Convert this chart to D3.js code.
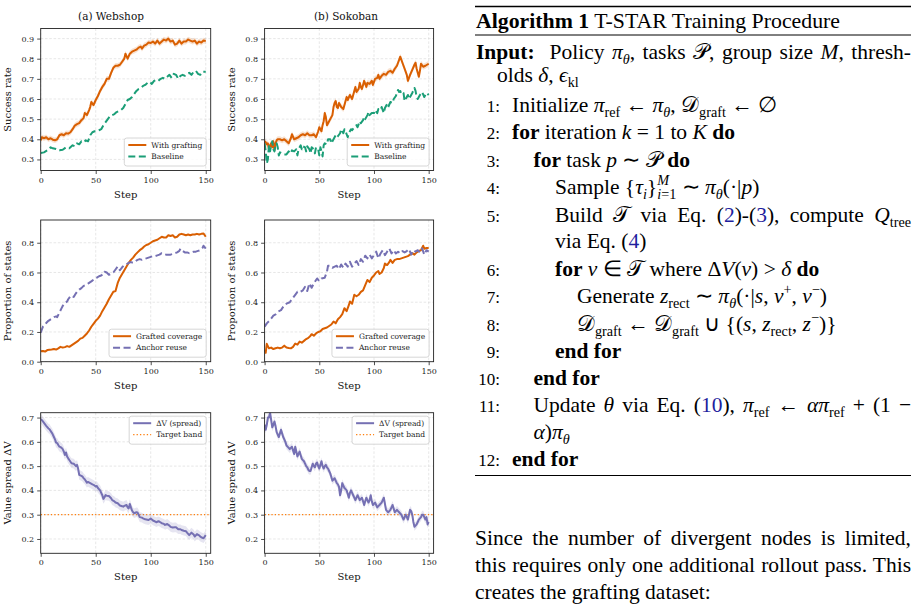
<!DOCTYPE html>
<html>
<head>
<meta charset="utf-8">
<script src="https://cdn.jsdelivr.net/npm/d3@7"></script>
<style>
  body { margin: 0; background: #fff; }
  svg { display: block; }
  text { white-space: pre; }
</style>
</head>
<body>
<svg width="920" height="607"></svg>
<script>
// ---- data: [step, value] ----
const webshopGrafting = [[0,0.395],[1,0.41],[3,0.405],[5,0.41],[7,0.40],[9,0.405],[11,0.398],[13,0.395],[15,0.40],[17,0.42],[19,0.425],[21,0.42],[23,0.43],[25,0.428],[27,0.435],[29,0.45],[31,0.468],[33,0.475],[35,0.48],[37,0.495],[39,0.505],[40,0.53],[42,0.52],[44,0.545],[45,0.56],[46,0.585],[48,0.57],[50,0.595],[52,0.615],[54,0.64],[56,0.66],[58,0.675],[60,0.70],[62,0.70],[64,0.73],[66,0.755],[68,0.765],[70,0.765],[72,0.77],[74,0.785],[76,0.80],[77,0.825],[79,0.80],[81,0.825],[83,0.835],[85,0.84],[87,0.845],[89,0.855],[91,0.86],[92,0.85],[94,0.865],[96,0.87],[98,0.88],[100,0.878],[102,0.885],[104,0.875],[106,0.89],[108,0.875],[110,0.885],[112,0.895],[114,0.89],[116,0.90],[118,0.885],[120,0.89],[122,0.87],[124,0.875],[126,0.89],[128,0.875],[130,0.885],[132,0.885],[134,0.895],[136,0.89],[138,0.885],[140,0.89],[142,0.875],[144,0.885],[146,0.88],[148,0.89],[150,0.888]];
const webshopBaseline = [[0,0.332],[3,0.335],[6,0.345],[9,0.36],[11,0.355],[14,0.352],[17,0.345],[20,0.348],[23,0.36],[26,0.355],[29,0.37],[31,0.365],[33,0.38],[35,0.375],[37,0.39],[39,0.385],[41,0.395],[43,0.39],[45,0.42],[47,0.435],[49,0.44],[51,0.44],[53,0.445],[55,0.45],[57,0.47],[59,0.485],[61,0.50],[63,0.515],[65,0.52],[67,0.525],[69,0.535],[71,0.54],[73,0.545],[75,0.555],[77,0.575],[79,0.595],[81,0.60],[83,0.61],[85,0.625],[87,0.64],[89,0.65],[91,0.655],[93,0.665],[95,0.67],[97,0.68],[99,0.685],[101,0.675],[103,0.69],[105,0.695],[107,0.69],[109,0.70],[111,0.705],[113,0.70],[115,0.71],[117,0.72],[119,0.705],[121,0.725],[123,0.72],[125,0.70],[127,0.715],[129,0.72],[131,0.715],[133,0.725],[135,0.73],[137,0.72],[139,0.735],[141,0.74],[143,0.725],[145,0.72],[147,0.735],[150,0.735]];
const sokobanGrafting = [[0,0.39],[1,0.385],[2,0.375],[3,0.38],[4,0.35],[5,0.37],[6,0.38],[7,0.36],[8,0.39],[9,0.345],[10,0.38],[11,0.395],[12,0.40],[14,0.40],[16,0.395],[18,0.40],[20,0.39],[22,0.38],[24,0.405],[25,0.425],[27,0.40],[29,0.405],[31,0.41],[33,0.42],[35,0.425],[37,0.42],[39,0.43],[41,0.42],[43,0.42],[45,0.425],[47,0.41],[49,0.44],[50,0.46],[52,0.44],[53,0.47],[54,0.49],[55,0.53],[56,0.51],[57,0.47],[58,0.48],[60,0.50],[62,0.52],[63,0.56],[64,0.58],[65,0.59],[66,0.56],[67,0.555],[68,0.58],[69,0.57],[70,0.56],[72,0.55],[73,0.57],[74,0.59],[75,0.61],[76,0.595],[78,0.62],[80,0.60],[82,0.64],[83,0.66],[84,0.635],[86,0.65],[87,0.68],[88,0.66],[89,0.65],[90,0.67],[91,0.69],[93,0.66],[94,0.68],[96,0.675],[98,0.69],[99,0.67],[101,0.70],[103,0.705],[104,0.72],[105,0.70],[107,0.715],[109,0.725],[111,0.72],[113,0.735],[115,0.74],[117,0.73],[119,0.75],[121,0.765],[122,0.78],[123,0.795],[124,0.81],[126,0.78],[128,0.75],[130,0.72],[131,0.69],[133,0.72],[135,0.745],[137,0.77],[138,0.78],[139,0.75],[140,0.73],[141,0.71],[142,0.74],[143,0.775],[145,0.76],[147,0.765],[150,0.775]];
const sokobanBaseline = [[0,0.38],[1,0.34],[2,0.28],[3,0.30],[4,0.37],[5,0.34],[6,0.37],[7,0.39],[8,0.35],[9,0.34],[10,0.375],[11,0.38],[12,0.36],[13,0.32],[14,0.335],[16,0.33],[18,0.325],[20,0.325],[22,0.34],[24,0.33],[25,0.345],[27,0.34],[29,0.35],[30,0.32],[31,0.35],[33,0.37],[34,0.35],[35,0.365],[37,0.36],[38,0.34],[39,0.365],[41,0.35],[42,0.33],[43,0.36],[45,0.35],[46,0.33],[47,0.36],[49,0.35],[50,0.32],[51,0.36],[52,0.34],[53,0.315],[54,0.37],[55,0.38],[57,0.375],[58,0.40],[60,0.40],[61,0.38],[63,0.40],[65,0.42],[66,0.41],[67,0.415],[69,0.43],[70,0.45],[71,0.44],[72,0.43],[73,0.45],[74,0.44],[76,0.41],[77,0.43],[79,0.45],[80,0.445],[82,0.46],[84,0.47],[85,0.46],[87,0.49],[88,0.48],[90,0.495],[91,0.51],[92,0.50],[94,0.52],[95,0.535],[96,0.52],[98,0.53],[100,0.53],[101,0.545],[103,0.53],[104,0.55],[106,0.545],[107,0.56],[109,0.53],[110,0.555],[112,0.575],[113,0.56],[115,0.585],[117,0.58],[118,0.60],[120,0.615],[122,0.645],[123,0.635],[124,0.64],[125,0.625],[127,0.63],[128,0.59],[129,0.60],[131,0.62],[132,0.60],[134,0.62],[135,0.63],[137,0.655],[138,0.64],[139,0.61],[140,0.60],[142,0.62],[144,0.635],[146,0.61],[148,0.63],[150,0.62]];

const webshopCoverage = [[0,0.07],[2,0.072],[4,0.068],[6,0.078],[8,0.08],[10,0.082],[12,0.085],[14,0.082],[16,0.09],[18,0.1],[20,0.095],[22,0.098],[24,0.105],[26,0.10],[28,0.11],[30,0.12],[32,0.13],[34,0.14],[36,0.155],[38,0.16],[40,0.175],[42,0.19],[44,0.21],[46,0.235],[48,0.255],[50,0.275],[52,0.29],[54,0.31],[56,0.34],[58,0.365],[60,0.39],[62,0.42],[64,0.445],[66,0.47],[68,0.475],[70,0.53],[72,0.565],[74,0.59],[76,0.615],[78,0.64],[80,0.665],[82,0.685],[84,0.70],[86,0.72],[88,0.735],[90,0.75],[92,0.76],[94,0.775],[96,0.785],[98,0.79],[100,0.80],[102,0.81],[104,0.815],[106,0.82],[108,0.83],[110,0.84],[112,0.835],[114,0.835],[116,0.85],[118,0.845],[120,0.85],[122,0.835],[124,0.84],[126,0.855],[128,0.86],[130,0.855],[132,0.85],[134,0.855],[136,0.85],[138,0.855],[140,0.855],[142,0.86],[144,0.855],[146,0.86],[148,0.862],[150,0.84]];
const webshopAnchor = [[0,0.195],[1,0.215],[2,0.235],[4,0.25],[5,0.26],[7,0.275],[9,0.285],[10,0.29],[12,0.30],[14,0.305],[15,0.30],[17,0.33],[19,0.36],[20,0.375],[22,0.395],[24,0.405],[25,0.42],[27,0.44],[28,0.445],[30,0.435],[32,0.46],[33,0.47],[35,0.485],[37,0.495],[39,0.51],[41,0.515],[43,0.525],[45,0.535],[47,0.545],[49,0.56],[51,0.565],[53,0.575],[55,0.58],[57,0.59],[58,0.605],[60,0.60],[62,0.585],[64,0.59],[66,0.60],[68,0.62],[70,0.64],[72,0.615],[74,0.635],[76,0.65],[78,0.655],[80,0.665],[82,0.67],[84,0.665],[86,0.675],[88,0.685],[90,0.69],[92,0.685],[94,0.69],[96,0.695],[98,0.70],[100,0.705],[102,0.71],[104,0.71],[106,0.715],[108,0.72],[110,0.73],[112,0.725],[114,0.72],[116,0.72],[118,0.72],[120,0.725],[122,0.73],[124,0.735],[126,0.745],[127,0.76],[129,0.745],[131,0.735],[133,0.735],[135,0.73],[137,0.735],[139,0.74],[141,0.74],[143,0.745],[145,0.75],[147,0.765],[148,0.78],[150,0.76]];
const sokobanCoverage = [[0,0.078],[1,0.06],[2,0.12],[3,0.105],[4,0.09],[6,0.095],[8,0.085],[10,0.09],[12,0.095],[14,0.09],[16,0.095],[18,0.108],[20,0.095],[22,0.092],[24,0.09],[26,0.10],[28,0.122],[30,0.115],[32,0.135],[34,0.128],[36,0.14],[38,0.152],[40,0.16],[42,0.175],[43,0.185],[45,0.175],[47,0.19],[49,0.20],[51,0.205],[53,0.22],[55,0.225],[57,0.23],[59,0.24],[61,0.25],[63,0.27],[65,0.258],[67,0.285],[69,0.30],[71,0.32],[73,0.36],[75,0.34],[77,0.38],[78,0.405],[80,0.39],[82,0.45],[84,0.44],[86,0.45],[88,0.47],[90,0.48],[92,0.515],[94,0.55],[96,0.535],[98,0.565],[100,0.58],[102,0.60],[104,0.61],[105,0.59],[107,0.60],[109,0.63],[110,0.66],[112,0.65],[114,0.67],[115,0.685],[117,0.665],[119,0.685],[121,0.69],[123,0.69],[125,0.695],[127,0.70],[129,0.705],[131,0.71],[133,0.72],[135,0.73],[137,0.72],[139,0.735],[141,0.745],[143,0.75],[145,0.78],[146,0.76],[148,0.765],[150,0.765]];
const sokobanAnchor = [[0,0.235],[2,0.258],[5,0.28],[8,0.31],[10,0.318],[12,0.336],[15,0.347],[18,0.38],[20,0.39],[23,0.40],[25,0.42],[28,0.45],[30,0.47],[32,0.466],[35,0.48],[37,0.504],[39,0.475],[41,0.527],[43,0.497],[45,0.527],[48,0.56],[50,0.542],[52,0.56],[55,0.565],[57,0.605],[58,0.645],[60,0.645],[62,0.632],[64,0.639],[66,0.645],[68,0.623],[70,0.654],[72,0.632],[74,0.66],[76,0.639],[78,0.672],[80,0.639],[82,0.66],[84,0.677],[86,0.65],[88,0.69],[90,0.672],[92,0.713],[94,0.695],[96,0.72],[98,0.695],[100,0.717],[102,0.74],[104,0.695],[106,0.728],[108,0.75],[110,0.717],[112,0.74],[114,0.762],[116,0.728],[118,0.75],[120,0.728],[122,0.74],[124,0.728],[126,0.744],[128,0.735],[130,0.744],[132,0.757],[134,0.72],[136,0.75],[138,0.74],[140,0.75],[142,0.735],[144,0.762],[146,0.72],[148,0.75],[150,0.74]];

const webshopSpread = [[0,0.693],[1,0.69],[2,0.684],[4,0.672],[5,0.666],[7,0.655],[8,0.652],[10,0.638],[11,0.63],[12,0.62],[13,0.61],[14,0.597],[15,0.595],[16,0.587],[17,0.58],[18,0.578],[19,0.575],[20,0.57],[21,0.56],[22,0.546],[23,0.556],[24,0.54],[25,0.532],[26,0.525],[28,0.512],[30,0.51],[31,0.505],[32,0.50],[33,0.505],[34,0.49],[35,0.464],[37,0.46],[38,0.457],[39,0.45],[40,0.446],[42,0.432],[43,0.435],[45,0.43],[47,0.425],[48,0.423],[50,0.416],[51,0.418],[52,0.41],[54,0.40],[55,0.39],[56,0.38],[57,0.365],[58,0.372],[59,0.381],[60,0.378],[62,0.377],[64,0.368],[65,0.36],[67,0.355],[68,0.35],[70,0.347],[72,0.338],[74,0.335],[75,0.333],[76,0.336],[78,0.34],[79,0.33],[80,0.326],[81,0.344],[82,0.33],[83,0.317],[84,0.31],[85,0.306],[87,0.31],[88,0.309],[89,0.30],[90,0.29],[92,0.288],[93,0.285],[95,0.281],[97,0.279],[98,0.278],[100,0.284],[102,0.276],[104,0.272],[105,0.269],[107,0.273],[108,0.271],[110,0.265],[112,0.262],[113,0.258],[115,0.262],[117,0.255],[118,0.25],[120,0.247],[122,0.248],[123,0.248],[125,0.24],[127,0.24],[128,0.237],[130,0.234],[132,0.232],[133,0.226],[135,0.216],[137,0.226],[139,0.218],[140,0.21],[142,0.22],[144,0.215],[145,0.21],[147,0.205],[148,0.203],[150,0.216]];
const sokobanSpread = [[0,0.67],[1,0.65],[2,0.67],[3,0.70],[4,0.70],[5,0.72],[6,0.69],[7,0.66],[8,0.67],[9,0.684],[10,0.665],[11,0.64],[12,0.63],[13,0.62],[14,0.635],[15,0.65],[16,0.635],[17,0.62],[18,0.61],[19,0.60],[20,0.585],[21,0.58],[22,0.575],[23,0.57],[24,0.575],[25,0.58],[26,0.565],[27,0.55],[28,0.58],[29,0.56],[30,0.54],[31,0.55],[32,0.56],[33,0.545],[34,0.53],[35,0.525],[36,0.52],[37,0.51],[38,0.50],[39,0.495],[40,0.485],[41,0.48],[42,0.48],[43,0.495],[44,0.51],[45,0.50],[46,0.495],[47,0.51],[48,0.515],[49,0.50],[50,0.49],[51,0.505],[52,0.52],[53,0.50],[54,0.49],[55,0.50],[56,0.505],[57,0.495],[58,0.49],[59,0.48],[60,0.47],[61,0.455],[62,0.44],[63,0.445],[64,0.45],[65,0.44],[66,0.43],[67,0.425],[68,0.415],[69,0.38],[70,0.40],[71,0.43],[72,0.42],[73,0.41],[74,0.405],[75,0.40],[76,0.385],[77,0.37],[78,0.39],[79,0.40],[80,0.39],[81,0.38],[82,0.37],[83,0.36],[84,0.37],[85,0.38],[86,0.37],[87,0.36],[88,0.365],[89,0.37],[90,0.355],[91,0.34],[92,0.355],[93,0.37],[94,0.36],[95,0.35],[96,0.36],[97,0.38],[98,0.355],[99,0.34],[100,0.345],[101,0.35],[102,0.34],[103,0.33],[104,0.335],[105,0.34],[106,0.345],[107,0.35],[108,0.36],[109,0.37],[110,0.345],[111,0.32],[112,0.315],[113,0.31],[114,0.315],[115,0.32],[116,0.33],[117,0.34],[118,0.325],[119,0.31],[120,0.315],[121,0.32],[122,0.315],[123,0.31],[124,0.305],[125,0.30],[126,0.29],[127,0.28],[128,0.29],[129,0.30],[130,0.29],[131,0.28],[132,0.30],[133,0.32],[134,0.315],[135,0.30],[136,0.27],[137,0.25],[138,0.255],[139,0.26],[140,0.27],[141,0.28],[142,0.285],[143,0.29],[144,0.30],[145,0.30],[146,0.29],[147,0.28],[148,0.29],[149,0.26],[150,0.27]];

const targetBand = 0.3;
const xTicks = [0, 50, 100, 150];
const successTicks = [0.3, 0.4, 0.5, 0.6, 0.7, 0.8, 0.9];
const proportionTicks = [0.0, 0.2, 0.4, 0.6, 0.8];
const spreadTicks = [0.2, 0.3, 0.4, 0.5, 0.6, 0.7];
const colTitles = ['(a) Webshop', '(b) Sokoban'];

const orange = '#d95f02', green = '#1b9e77', purple = '#7570b3', targetColor = '#ff7f0e';

const svg = d3.select('svg');

const cols = [{left: 40.7, width: 170}, {left: 264.6, width: 169}];
const rows = [{top: 28.5, height: 142}, {top: 220, height: 141.7}, {top: 412.7, height: 140.6}];

const panels = [
  {c:0, r:0, ylabel:'Success rate', yDomain:[0.245,0.95], yTicks:successTicks, legend:'bottom',
   series:[{data:webshopGrafting, color:orange, band:0.014, label:'With grafting'},
           {data:webshopBaseline, color:green, dash:'7,3.5', label:'Baseline'}]},
  {c:1, r:0, ylabel:'Success rate', yDomain:[0.245,0.95], yTicks:successTicks, legend:'bottom',
   series:[{data:sokobanGrafting, color:orange, band:0.015, label:'With grafting'},
           {data:sokobanBaseline, color:green, dash:'7,3.5', label:'Baseline'}]},
  {c:0, r:1, ylabel:'Proportion of states', yDomain:[0,0.953], yTicks:proportionTicks, legend:'bottom',
   series:[{data:webshopCoverage, color:orange, label:'Grafted coverage'},
           {data:webshopAnchor, color:purple, dash:'7,3.5', label:'Anchor reuse'}]},
  {c:1, r:1, ylabel:'Proportion of states', yDomain:[0,0.953], yTicks:proportionTicks, legend:'bottom',
   series:[{data:sokobanCoverage, color:orange, label:'Grafted coverage'},
           {data:sokobanAnchor, color:purple, dash:'7,3.5', label:'Anchor reuse'}]},
  {c:0, r:2, ylabel:'Value spread \u0394V', yDomain:[0.141,0.72], yTicks:spreadTicks, legend:'top', target:true,
   series:[{data:webshopSpread, color:purple, band:0.02, label:'\u0394V (spread)'}]},
  {c:1, r:2, ylabel:'Value spread \u0394V', yDomain:[0.141,0.72], yTicks:spreadTicks, legend:'top', target:true,
   series:[{data:sokobanSpread, color:purple, band:0.016, label:'\u0394V (spread)'}]}
];

const chartFont = 'DejaVu Serif';

panels.forEach((p, i) => {
  const x0 = cols[p.c].left, w = cols[p.c].width;
  const y0 = rows[p.r].top, h = rows[p.r].height;
  const g = svg.append('g').attr('transform', `translate(${x0},${y0})`);

  const x = d3.scaleLinear().domain([0, 154.5]).range([0, w]);
  const y = d3.scaleLinear().domain(p.yDomain).range([h, 0]);

  g.append('clipPath').attr('id', 'clip' + i)
    .append('rect').attr('width', w).attr('height', h);

  // grid
  const grid = g.append('g').attr('stroke', '#c8c8c8').attr('stroke-width', 0.6)
    .attr('stroke-dasharray', '2.5,1.8').attr('opacity', 0.7);
  grid.selectAll('.gx').data(xTicks).enter().append('line')
    .attr('x1', d => x(d)).attr('x2', d => x(d)).attr('y1', 0).attr('y2', h);
  grid.selectAll('.gy').data(p.yTicks).enter().append('line')
    .attr('y1', d => y(d)).attr('y2', d => y(d)).attr('x1', 0).attr('x2', w);

  const plot = g.append('g').attr('clip-path', `url(#clip${i})`);

  if (p.target) {
    plot.append('line')
      .attr('x1', 0).attr('x2', w)
      .attr('y1', y(targetBand)).attr('y2', y(targetBand))
      .attr('stroke', targetColor).attr('stroke-width', 1.3)
      .attr('stroke-dasharray', '1.3,2.1');
  }

  p.series.forEach(s => {
    if (s.band) {
      const area = d3.area().x(d => x(d[0]))
        .y0(d => y(d[1] - s.band)).y1(d => y(d[1] + s.band));
      plot.append('path').datum(s.data).attr('d', area)
        .attr('fill', s.color).attr('opacity', 0.18);
    }
    const line = d3.line().x(d => x(d[0])).y(d => y(d[1]));
    plot.append('path').datum(s.data).attr('d', line)
      .attr('fill', 'none').attr('stroke', s.color).attr('stroke-width', 2)
      .attr('stroke-linejoin', 'round')
      .attr('stroke-dasharray', s.dash || null);
  });

  // frame
  g.append('rect').attr('width', w).attr('height', h)
    .attr('fill', 'none').attr('stroke', '#222').attr('stroke-width', 0.9);

  // axes
  const xAxis = d3.axisBottom(x).tickValues(xTicks).tickSize(3.5).tickSizeOuter(0).tickPadding(3);
  const yAxis = d3.axisLeft(y).tickValues(p.yTicks).tickFormat(d3.format('.1f'))
    .tickSize(3.5).tickSizeOuter(0).tickPadding(3);
  [g.append('g').attr('transform', `translate(0,${h})`).call(xAxis),
   g.append('g').call(yAxis)].forEach(a => {
    a.select('.domain').remove();
    a.selectAll('line').attr('stroke', '#222').attr('stroke-width', 0.8);
    a.selectAll('text').attr('fill', '#222')
      .style('font-family', chartFont).style('font-size', '8px');
  });

  g.append('text').attr('x', w / 2).attr('y', h + 27)
    .attr('text-anchor', 'middle').attr('fill', '#111')
    .style('font-family', chartFont).style('font-size', '10px').text('Step');

  g.append('text')
    .attr('transform', `translate(-30,${h / 2}) rotate(-90)`)
    .attr('text-anchor', 'middle').attr('fill', '#111')
    .style('font-family', chartFont).style('font-size', '10px').text(p.ylabel);

  // legend
  const items = p.series.map(s => ({label: s.label, color: s.color, dash: s.dash, width: 2}));
  if (p.target) items.push({label: 'Target band', color: targetColor, dash: '1.3,2.1', width: 1.3});
  const lg = g.append('g');
  const box = lg.append('rect').attr('rx', 2.5).attr('fill', '#fff').attr('fill-opacity', 0.85)
    .attr('stroke', '#cccccc').attr('stroke-width', 0.8);
  let maxW = 0;
  items.forEach((it, k) => {
    const cy = 7 + k * 11.5;
    lg.append('line').attr('x1', 4).attr('x2', 22).attr('y1', cy).attr('y2', cy)
      .attr('stroke', it.color).attr('stroke-width', it.width)
      .attr('stroke-dasharray', it.dash || null);
    const t = lg.append('text').attr('x', 27).attr('y', cy + 2.6)
      .attr('fill', '#222').style('font-family', chartFont).style('font-size', '7.5px')
      .text(it.label);
    maxW = Math.max(maxW, t.node().getComputedTextLength());
  });
  const bw = 27 + maxW + 4, bh = 4 + items.length * 11.5 + 1;
  box.attr('width', bw).attr('height', bh);
  const lx = w - 4.5 - bw;
  const ly = p.legend === 'bottom' ? h - 4.5 - bh : 3.5;
  lg.attr('transform', `translate(${lx},${ly})`);
});

// column titles
const titleX = [111, 346];
colTitles.forEach((t, k) => {
  svg.append('text').attr('x', titleX[k]).attr('y', 20)
    .attr('text-anchor', 'middle').attr('fill', '#111')
    .style('font-family', chartFont).style('font-size', '10.5px').text(t);
});

// ---- algorithm block ----
const textFont = 'Liberation Serif';
const fs = 21.5;
const linkColor = '#1f1f9e';
const leftX = 475, rightX = 911;

// style codes: b bold, i italic, _ subscript, ^ superscript, l link colour, < step back under previous
function renderLine(x, y, segs, opt = {}) {
  const t = svg.append('text').attr('x', x).attr('y', y)
    .attr('fill', '#000').style('font-family', textFont).style('font-size', (opt.size || fs) + 'px');
  let shift = 0, prev = null;
  segs.forEach(([txt, st = '']) => {
    const sp = t.append('tspan').text(txt);
    let target = 0;
    if (st.includes('b')) sp.style('font-weight', 'bold');
    if (st.includes('i')) sp.style('font-style', 'italic');
    if (st.includes('l')) sp.attr('fill', linkColor);
    if (st.includes('_')) { target = 0.22 * fs; sp.style('font-size', (0.66 * fs) + 'px'); }
    if (st.includes('^')) { target = -0.42 * fs; sp.style('font-size', (0.66 * fs) + 'px'); }
    if (target !== shift) { sp.attr('dy', target - shift); shift = target; }
    if (st.includes('<') && prev) sp.attr('dx', -prev.node().getComputedTextLength());
    prev = sp;
  });
  if (opt.justify) {
    const n = segs.reduce((a, s) => a + (s[0].match(/ /g) || []).length, 0);
    const wNat = t.node().getComputedTextLength();
    t.style('word-spacing', ((opt.right - x - wNat) / n) + 'px');
  }
  return t;
}

function lineNo(n, y) {
  svg.append('text').attr('x', 500).attr('y', y).attr('text-anchor', 'end')
    .style('font-family', textFont).style('font-size', '17px').text(n + ':');
}

const P = '\u{1D4AB}', T = '\u{1D4AF}', D = '\u{1D49F}';

svg.append('line').attr('x1', leftX).attr('x2', rightX).attr('y1', 6.5).attr('y2', 6.5)
  .attr('stroke', '#000').attr('stroke-width', 1.6);
renderLine(leftX + 1, 28, [['Algorithm 1', 'b'], [' T-STAR Training Procedure']], {size: 21.8});
svg.append('line').attr('x1', leftX).attr('x2', rightX).attr('y1', 35).attr('y2', 35)
  .attr('stroke', '#000').attr('stroke-width', 1);

renderLine(leftX + 1, 59, [['Input:', 'b'], ['  Policy '], ['\u03C0', 'i'], ['\u03B8', '_i'], [', tasks '], [P], [', group size '], ['M', 'i'], [', thresh-']], {justify: true, right: rightX});
renderLine(497, 82, [['olds '], ['\u03B4', 'i'], [', '], ['\u03F5', 'i'], ['kl', '_']]);

const L1 = 512, L2 = 533.5, L3 = 555, L4 = 577;
const algo = [
  {n:1, y:112, x:L1, segs:[['Initialize '], ['\u03C0', 'i'], ['ref', '_'], [' \u2190 '], ['\u03C0', 'i'], ['\u03B8', '_i'], [', '], [D], ['graft', '_'], [' \u2190 \u2205']]},
  {n:2, y:139, x:L1, segs:[['for', 'b'], [' iteration '], ['k', 'i'], [' = 1 to '], ['K', 'i'], [' '], ['do', 'b']]},
  {n:3, y:167, x:L2, segs:[['for', 'b'], [' task '], ['p', 'i'], [' \u223C '], [P], [' '], ['do', 'b']]},
  {n:4, y:194, x:L3, segs:[['Sample {'], ['\u03C4', 'i'], ['i', '_i'], ['}'], ['M', '^i'], ['i', '_i<'], ['=1', '_'], [' \u223C '], ['\u03C0', 'i'], ['\u03B8', '_i'], ['(\u00B7|'], ['p', 'i'], [')']]},
  {n:5, y:222, x:L3, segs:[['Build '], [T], [' via Eq. ('], ['2', 'l'], [')-('], ['3', 'l'], ['), compute '], ['Q', 'i'], ['tree', '_']], justify:true},
  {n:'', y:248, x:L3, segs:[['via Eq. ('], ['4', 'l'], [')']]},
  {n:6, y:276, x:L3, segs:[['for', 'b'], [' '], ['v', 'i'], [' \u2208 '], [T], [' where \u0394'], ['V', 'i'], ['('], ['v', 'i'], [') > '], ['\u03B4', 'i'], [' '], ['do', 'b']]},
  {n:7, y:303, x:L4, segs:[['Generate '], ['z', 'i'], ['rect', '_'], [' \u223C '], ['\u03C0', 'i'], ['\u03B8', '_i'], ['(\u00B7|'], ['s', 'i'], [', '], ['v', 'i'], ['+', '^'], [', '], ['v', 'i'], ['\u2212', '^'], [')']]},
  {n:8, y:331, x:L4, segs:[[D], ['graft', '_'], [' \u2190 '], [D], ['graft', '_'], [' \u222A {('], ['s', 'i'], [', '], ['z', 'i'], ['rect', '_'], [', '], ['z', 'i'], ['\u2212', '^'], [')}']]},
  {n:9, y:358, x:L3, segs:[['end for', 'b']]},
  {n:10, y:385, x:L2, segs:[['end for', 'b']]},
  {n:11, y:412, x:L2, segs:[['Update '], ['\u03B8', 'i'], [' via Eq. ('], ['10', 'l'], ['), '], ['\u03C0', 'i'], ['ref', '_'], [' \u2190 '], ['\u03B1\u03C0', 'i'], ['ref', '_'], [' + (1 \u2212']], justify:true},
  {n:'', y:439, x:L2, segs:[['\u03B1', 'i'], [')'], ['\u03C0', 'i'], ['\u03B8', '_i']]},
  {n:12, y:466, x:L1, segs:[['end for', 'b']]}
];
algo.forEach(l => {
  if (l.n !== '') lineNo(l.n, l.y);
  renderLine(l.x, l.y, l.segs, l.justify ? {justify: true, right: rightX} : {});
});
svg.append('line').attr('x1', leftX).attr('x2', rightX).attr('y1', 475.5).attr('y2', 475.5)
  .attr('stroke', '#000').attr('stroke-width', 1);

// paragraph below
const para = [
  {y:545, text:'Since the number of divergent nodes is limited,', justify:true},
  {y:572, text:'this requires only one additional rollout pass. This', justify:true},
  {y:599, text:'creates the grafting dataset:', justify:false}
];
para.forEach(l => renderLine(leftX, l.y, [[l.text]], l.justify ? {justify: true, right: rightX} : {}));
</script>
</body>
</html>
